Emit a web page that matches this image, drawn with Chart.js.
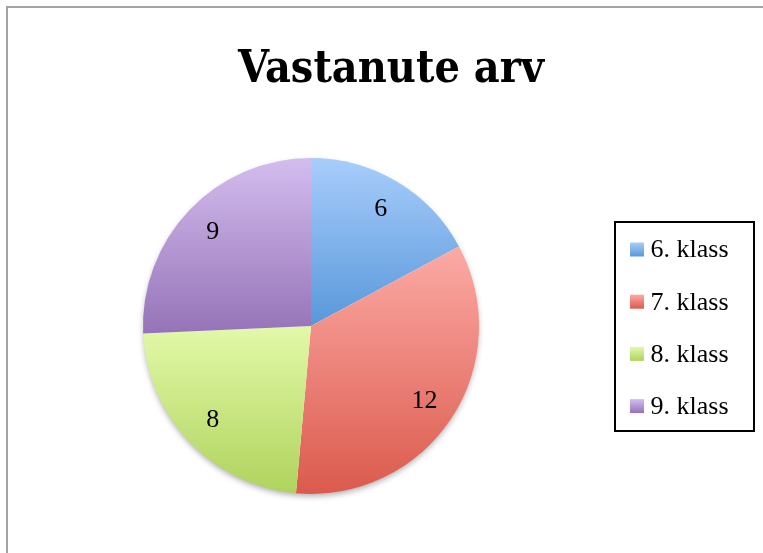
<!DOCTYPE html>
<html><head><meta charset="utf-8">
<script src="https://cdn.jsdelivr.net/npm/chart.js@4/dist/chart.umd.min.js"></script>
<style>
html,body{margin:0;padding:0;background:#fff;width:763px;height:553px;overflow:hidden}
#frame{position:absolute;left:6px;top:6px;width:900px;height:700px;border-left:2px solid #a3a3a3;border-top:2px solid #a3a3a3}
#c{position:absolute;left:0;top:0}
</style></head><body>
<div id="frame"></div>
<canvas id="c" width="763" height="553"></canvas>
<script>
const titleText = 'Vastanute arv';
const categories = ['6. klass', '7. klass', '8. klass', '9. klass'];
const values = [6, 12, 8, 9];
const topColors = ['#a8cdfb', '#fcaaa5', '#e2f9a9', '#d3bdee'];
const bottomColors = ['#5898da', '#db5a4d', '#b0d35d', '#9673b8'];

const labelFont = '26px "Liberation Serif", "Times New Roman", serif';

function sliceGradient(ctx) {
  if (ctx.type !== 'data') return bottomColors[0];
  const chart = ctx.chart, ca = chart.chartArea, i = ctx.dataIndex;
  if (!ca) return bottomColors[i];
  const data = ctx.dataset.data;
  const total = data.reduce((a, b) => a + b, 0);
  let before = 0;
  for (let k = 0; k < i; k++) before += data[k];
  const a0 = before / total * 2 * Math.PI;
  const a1 = (before + data[i]) / total * 2 * Math.PI;
  const cx = (ca.left + ca.right) / 2, cy = (ca.top + ca.bottom) / 2;
  const r = Math.min(ca.width, ca.height) / 2;
  const ys = [cy, cy - r * Math.cos(a0), cy - r * Math.cos(a1)];
  if (a0 <= 1e-9 || a1 >= 2 * Math.PI - 1e-9) ys.push(cy - r);
  if (a0 < Math.PI && a1 > Math.PI) ys.push(cy + r);
  const y0 = Math.min(...ys), y1 = Math.max(...ys);
  const g = chart.ctx.createLinearGradient(0, y0, 0, y1);
  g.addColorStop(0, topColors[i]);
  g.addColorStop(1, bottomColors[i]);
  return g;
}

const shadowPlugin = {
  id: 'pieShadow',
  beforeDatasetsDraw(chart) {
    const el = chart.getDatasetMeta(0).data[0];
    if (!el) return;
    const ctx = chart.ctx;
    ctx.save();
    ctx.shadowColor = 'rgba(0,0,0,0.35)';
    ctx.shadowBlur = 6;
    ctx.shadowOffsetY = 3;
    ctx.beginPath();
    ctx.arc(el.x, el.y, el.outerRadius - 1, 0, Math.PI * 2);
    ctx.fillStyle = '#ffffff';
    ctx.fill();
    ctx.restore();
  }
};

const labelsPlugin = {
  id: 'sliceLabels',
  afterDatasetsDraw(chart) {
    const ctx = chart.ctx;
    const meta = chart.getDatasetMeta(0);
    const data = chart.data.datasets[0].data;
    ctx.save();
    ctx.font = labelFont;
    ctx.fillStyle = '#000';
    ctx.textAlign = 'center';
    ctx.textBaseline = 'middle';
    meta.data.forEach((el, i) => {
      const mid = (el.startAngle + el.endAngle) / 2;
      const d = el.outerRadius * 0.81;
      ctx.fillText(String(data[i]), el.x + Math.cos(mid) * d, el.y + Math.sin(mid) * d);
    });
    ctx.restore();
  }
};

const titlePlugin = {
  id: 'titleDraw',
  afterDraw(chart) {
    const ctx = chart.ctx;
    ctx.save();
    ctx.font = 'bold 45px "DejaVu Serif Condensed", "DejaVu Serif", serif';
    const w = ctx.measureText(titleText).width;
    const sx = Math.min(1, 306 / w);
    ctx.translate(391, 82);
    ctx.scale(sx, 1);
    ctx.fillStyle = '#000';
    ctx.textAlign = 'center';
    ctx.textBaseline = 'alphabetic';
    ctx.fillText(titleText, 0, 0);
    ctx.restore();
  }
};

const legendPlugin = {
  id: 'boxLegend',
  afterDraw(chart) {
    const ctx = chart.ctx;
    const left = 615, top = 222, right = 754, bottom = 431;
    ctx.save();
    ctx.strokeStyle = '#000';
    ctx.lineWidth = 2;
    ctx.strokeRect(left, top, right - left, bottom - top);
    ctx.font = labelFont;
    ctx.textBaseline = 'middle';
    ctx.textAlign = 'left';
    const rowStart = 249.5, rowGap = 52.2;
    chart.data.labels.forEach((lab, i) => {
      const yc = rowStart + i * rowGap;
      const g = ctx.createLinearGradient(0, yc - 7, 0, yc + 7);
      g.addColorStop(0, topColors[i]);
      g.addColorStop(1, bottomColors[i]);
      ctx.fillStyle = g;
      ctx.fillRect(630, yc - 7, 14, 14);
      ctx.fillStyle = '#000';
      ctx.fillText(lab, 650.5, yc + 1);
    });
    ctx.restore();
  }
};

new Chart(document.getElementById('c'), {
  type: 'pie',
  data: {
    labels: categories,
    datasets: [{
      data: values,
      backgroundColor: sliceGradient,
      borderWidth: 0,
      hoverOffset: 0
    }]
  },
  options: {
    responsive: false,
    animation: false,
    layout: { padding: { left: 143, right: 284, top: 158, bottom: 59 } },
    plugins: {
      legend: { display: false },
      title: { display: false },
      tooltip: { enabled: false }
    }
  },
  plugins: [shadowPlugin, labelsPlugin, titlePlugin, legendPlugin]
});
</script>
</body></html>
